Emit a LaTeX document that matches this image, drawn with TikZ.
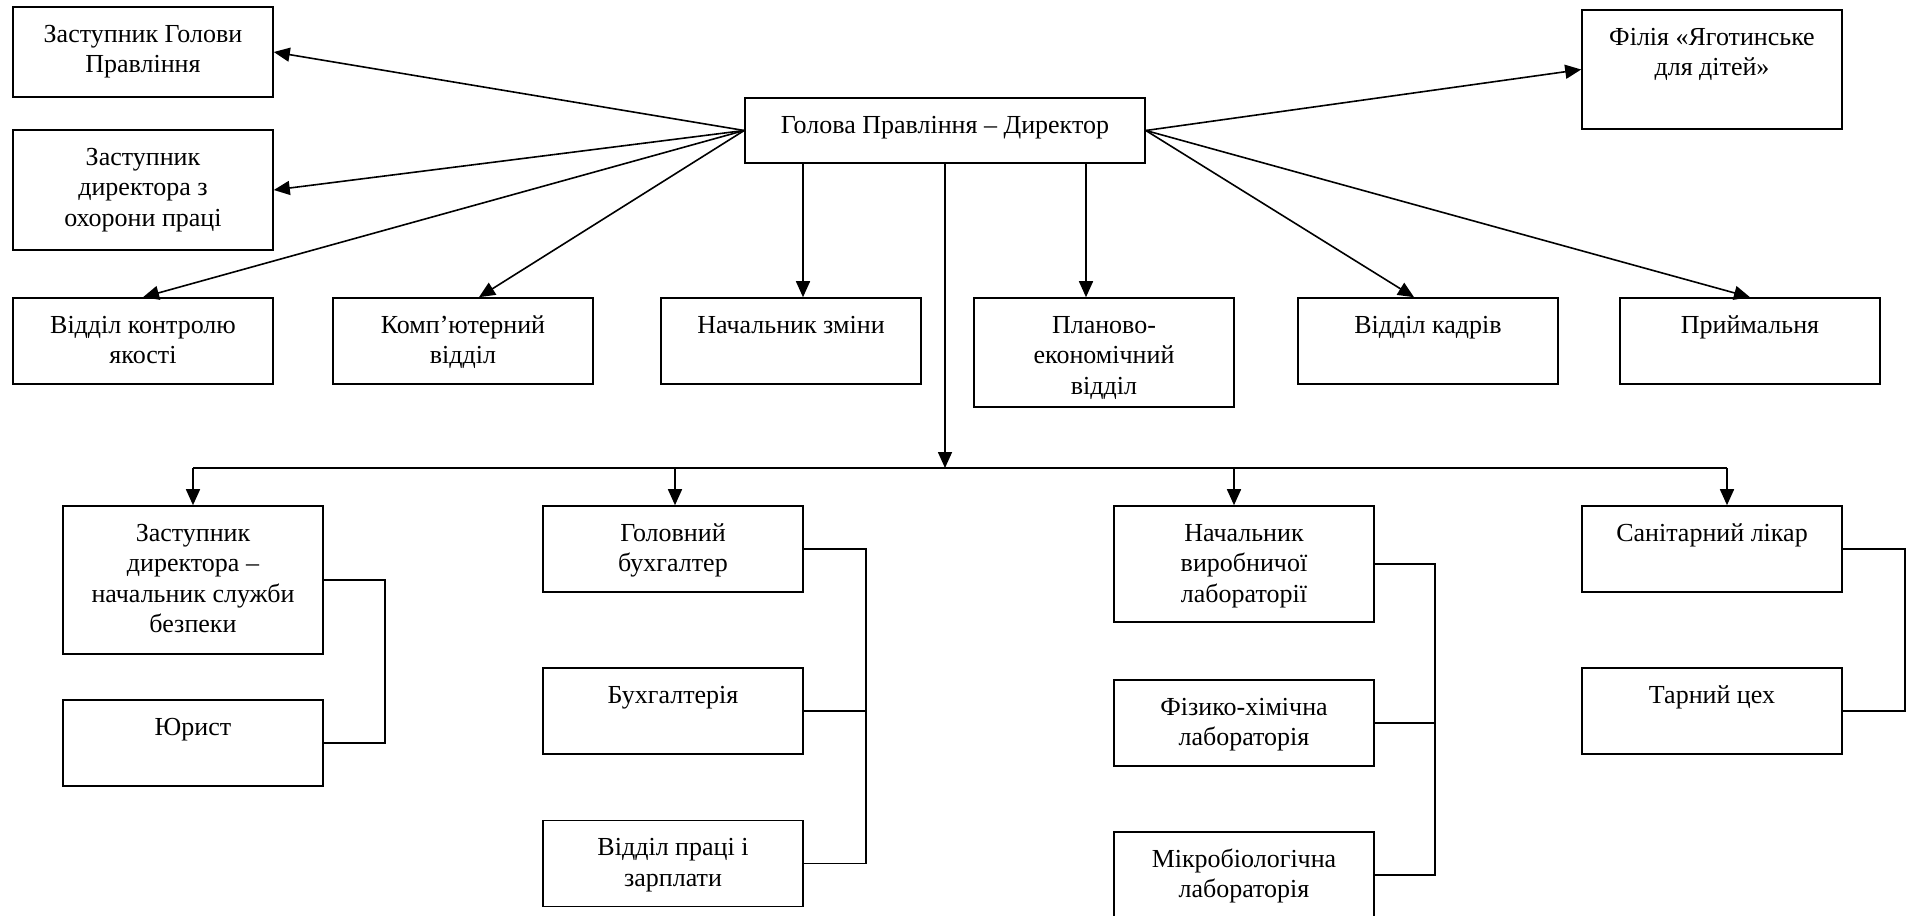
\documentclass[tikz,border=0pt]{standalone}
\usepackage{fontspec}
\setmainfont{Liberation Serif}
\usetikzlibrary{arrows.meta, positioning}

\newcommand{\orgcell}[3][130pt]{\parbox[c][#2][t]{#1}{\centering\rule{0pt}{17.5pt}#3}}

\begin{document}
\begin{tikzpicture}[x=0.5pt, y=-0.5pt, font=\fontsize{13}{15.3}\selectfont,
    unit/.style={draw, thick, inner sep=0pt},
    link/.style={-{Triangle[length=8pt, width=7pt]}, thick}]
  \useasboundingbox (0,0) rectangle (1908,916);

  \node (golova) [unit] at (945,130.5) {\orgcell[200pt]{32.5pt}{Голова Правління – Директор}};
  \node (zg) [unit] at (143,52) {\orgcell{45pt}{Заступник Голови\\Правління}};
  \node (zd) [unit] at (143,190) {\orgcell{60pt}{Заступник\\директора з\\охорони праці}};
  \node (fil) [unit] at (1712,69.5) {\orgcell{59.5pt}{Філія «Яготинське\\для дітей»}};

  \node (vk) [unit] at (143,341) {\orgcell{43pt}{Відділ контролю\\якості}};
  \node (kv) [unit] at (463,341) {\orgcell{43pt}{Комп’ютерний\\відділ}};
  \node (nz) [unit] at (791,341) {\orgcell{43pt}{Начальник зміни}};
  \node (pl) [unit] at (1104,352.5) {\orgcell{54.5pt}{Планово-\\економічний\\відділ}};
  \node (vkad) [unit] at (1428,341) {\orgcell{43pt}{Відділ кадрів}};
  \node (pr) [unit] at (1750,341) {\orgcell{43pt}{Приймальня}};

  \node (sb) [unit] at (193,580) {\orgcell{74pt}{Заступник\\директора –\\начальник служби\\безпеки}};
  \node (jur) [unit] at (193,743) {\orgcell{43pt}{Юрист}};
  \node (gb) [unit] at (673,549) {\orgcell{43pt}{Головний\\бухгалтер}};
  \node (buh) [unit] at (673,711) {\orgcell{43pt}{Бухгалтерія}};
  \node (vp) [unit] at (673,863.5) {\orgcell{43pt}{Відділ праці і\\зарплати}};
  \node (nv) [unit] at (1244,564) {\orgcell{58pt}{Начальник\\виробничої\\лабораторії}};
  \node (fx) [unit] at (1244,723) {\orgcell{43pt}{Фізико-хімічна\\лабораторія}};
  \node (mb) [unit] at (1244,875) {\orgcell{43pt}{Мікробіологічна\\лабораторія}};
  \node (san) [unit] at (1712,549) {\orgcell{43pt}{Санітарний лікар}};
  \node (tar) [unit] at (1712,711) {\orgcell{43pt}{Тарний цех}};

  \coordinate (b1) at (193,468);
  \coordinate (b2) at (675,468);
  \coordinate (b3) at (1234,468);
  \coordinate (b4) at (1727,468);
  \path (nz.north) ++(6pt,0) coordinate (nzin);
  \path (pl.north) ++(-9pt,0) coordinate (plin);

  \path [link]
    (golova.west) edge (zg.east)
    (golova.west) edge (zd.east)
    (golova.west) edge (vk.north)
    (golova.west) edge ([xshift=8pt]kv.north)
    (golova.east) edge (fil.west)
    (golova.east) edge ([xshift=-7pt]vkad.north)
    (golova.east) edge (pr.north)
    (nzin |- golova.south) edge (nzin)
    (plin |- golova.south) edge (plin)
    (golova.south) edge (golova.south |- b1)
    (b1) edge (b1 |- sb.north)
    (b2) edge (b2 |- gb.north)
    (b3) edge (b3 |- nv.north)
    (b4) edge (b4 |- san.north);

  \draw [thick] (b1) -- (b4);
  \draw [thick] (sb.east) -- ++(61,0) |- (jur.east);
  \draw [thick] (gb.east) -- ++(62,0) |- (vp.east);
  \draw [thick] (buh.east) -- ++(62,0);
  \draw [thick] (nv.east) -- ++(60,0) |- (mb.east);
  \draw [thick] (fx.east) -- ++(60,0);
  \draw [thick] (san.east) -- ++(62,0) |- (tar.east);
\end{tikzpicture}
\end{document}
